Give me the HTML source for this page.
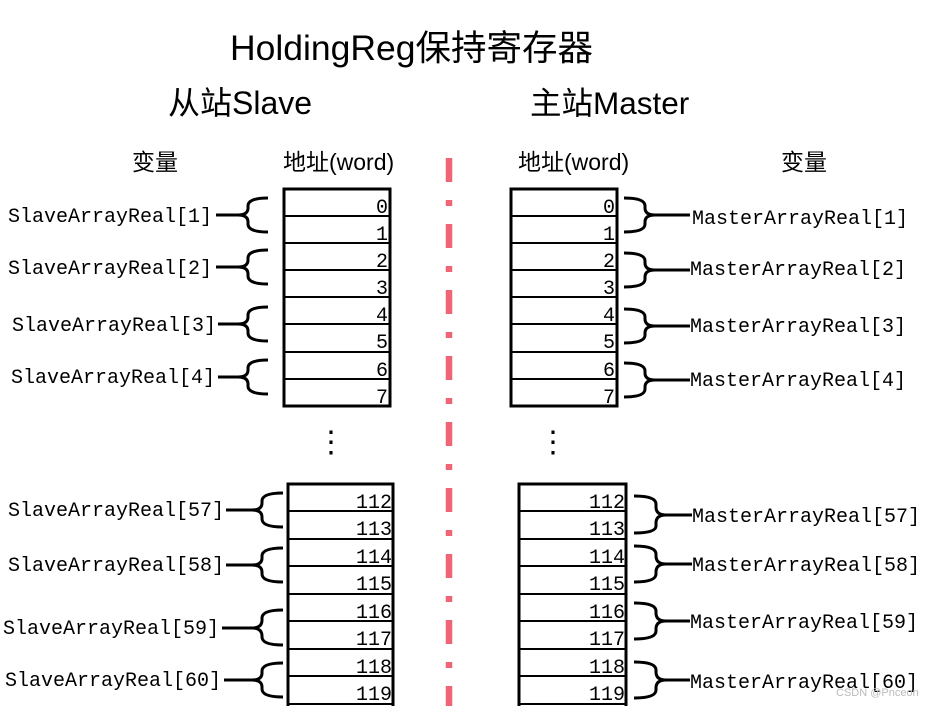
<!DOCTYPE html>
<html><head><meta charset="utf-8"><style>
html,body{margin:0;padding:0;background:#fff;}
svg{display:block}
.t{font-family:"Liberation Sans","Noto Sans CJK SC",sans-serif;fill:#000}
.m{font-family:"Liberation Mono","Noto Sans CJK SC",monospace;font-size:20px;fill:#000}
.n{font-family:"Liberation Mono",monospace;font-size:20px;fill:#000;text-anchor:end}
.b{fill:none;stroke:#000;stroke-width:3}
.g{stroke:#000;stroke-width:2}
</style></head><body>
<svg width="933" height="706" viewBox="0 0 933 706" xmlns="http://www.w3.org/2000/svg">
<text class="t" x="230" y="60" font-size="35.5">HoldingReg保持寄存器</text>
<text class="t" x="168" y="114" font-size="32">从站Slave</text>
<text class="t" x="530" y="114" font-size="31.5">主站Master</text>
<text class="t" x="132" y="170" font-size="23">变量</text>
<text class="t" x="283" y="170" font-size="23">地址(word)</text>
<text class="t" x="518" y="170" font-size="23">地址(word)</text>
<text class="t" x="781" y="170" font-size="23">变量</text>
<line x1="449" y1="158" x2="449" y2="706" stroke="#f06478" stroke-width="6.5" stroke-dasharray="24 18 6 18"/>

<!-- top-left box -->
<rect x="284" y="189" width="106" height="217" fill="none" stroke="#000" stroke-width="3"/>
<g class="g"><line x1="284" y1="216" x2="390" y2="216"/><line x1="284" y1="243" x2="390" y2="243"/><line x1="284" y1="270" x2="390" y2="270"/><line x1="284" y1="297" x2="390" y2="297"/><line x1="284" y1="324" x2="390" y2="324"/><line x1="284" y1="352" x2="390" y2="352"/><line x1="284" y1="379" x2="390" y2="379"/></g>
<g class="n" font-size="19"><text x="388" y="213">0</text><text x="388" y="240">1</text><text x="388" y="267">2</text><text x="388" y="294">3</text><text x="388" y="321">4</text><text x="388" y="348">5</text><text x="388" y="376">6</text><text x="388" y="403">7</text></g>
<!-- top-right box -->
<rect x="511" y="189" width="106" height="217" fill="none" stroke="#000" stroke-width="3"/>
<g class="g"><line x1="511" y1="216" x2="617" y2="216"/><line x1="511" y1="243" x2="617" y2="243"/><line x1="511" y1="270" x2="617" y2="270"/><line x1="511" y1="297" x2="617" y2="297"/><line x1="511" y1="324" x2="617" y2="324"/><line x1="511" y1="352" x2="617" y2="352"/><line x1="511" y1="379" x2="617" y2="379"/></g>
<g class="n"><text x="615" y="213">0</text><text x="615" y="240">1</text><text x="615" y="267">2</text><text x="615" y="294">3</text><text x="615" y="321">4</text><text x="615" y="348">5</text><text x="615" y="376">6</text><text x="615" y="403">7</text></g>
<!-- bottom-left box -->
<rect x="288" y="484" width="105" height="230" fill="none" stroke="#000" stroke-width="3"/>
<g class="g"><line x1="288" y1="511" x2="393" y2="511"/><line x1="288" y1="539" x2="393" y2="539"/><line x1="288" y1="566" x2="393" y2="566"/><line x1="288" y1="594" x2="393" y2="594"/><line x1="288" y1="621" x2="393" y2="621"/><line x1="288" y1="649" x2="393" y2="649"/><line x1="288" y1="676" x2="393" y2="676"/><line x1="288" y1="704" x2="393" y2="704"/></g>
<g class="n" font-size="22"><text x="392" y="508">112</text><text x="392" y="535">113</text><text x="392" y="563">114</text><text x="392" y="590">115</text><text x="392" y="618">116</text><text x="392" y="645">117</text><text x="392" y="673">118</text><text x="392" y="700">119</text></g>
<!-- bottom-right box -->
<rect x="519" y="484" width="107" height="230" fill="none" stroke="#000" stroke-width="3"/>
<g class="g"><line x1="519" y1="511" x2="626" y2="511"/><line x1="519" y1="539" x2="626" y2="539"/><line x1="519" y1="566" x2="626" y2="566"/><line x1="519" y1="594" x2="626" y2="594"/><line x1="519" y1="621" x2="626" y2="621"/><line x1="519" y1="649" x2="626" y2="649"/><line x1="519" y1="676" x2="626" y2="676"/><line x1="519" y1="704" x2="626" y2="704"/></g>
<g class="n" font-size="22"><text x="625" y="508">112</text><text x="625" y="535">113</text><text x="625" y="563">114</text><text x="625" y="590">115</text><text x="625" y="618">116</text><text x="625" y="645">117</text><text x="625" y="673">118</text><text x="625" y="700">119</text></g>

<text class="t" x="316" y="452" font-size="30">⋮</text>
<text class="t" x="538" y="452" font-size="30">⋮</text>

<g class="m"><text x="8" y="222">SlaveArrayReal[1]</text><text x="8" y="274">SlaveArrayReal[2]</text><text x="12" y="331">SlaveArrayReal[3]</text><text x="11" y="383">SlaveArrayReal[4]</text>
<text x="8" y="516">SlaveArrayReal[57]</text><text x="8" y="571">SlaveArrayReal[58]</text><text x="3" y="634">SlaveArrayReal[59]</text><text x="5" y="686">SlaveArrayReal[60]</text>
<text x="692" y="224">MasterArrayReal[1]</text><text x="690" y="275">MasterArrayReal[2]</text><text x="690" y="332">MasterArrayReal[3]</text><text x="690" y="386">MasterArrayReal[4]</text>
<text x="692" y="522">MasterArrayReal[57]</text><text x="692" y="571">MasterArrayReal[58]</text><text x="690" y="628">MasterArrayReal[59]</text><text x="690" y="688">MasterArrayReal[60]</text></g>

<g class="b">
<path d="M216 215H238M268 198Q248 198 248 206V208Q248 215 238 215Q248 215 248 222V224Q248 232 268 232"/>
<path d="M216 267H238M268 250Q248 250 248 258V260Q248 267 238 267Q248 267 248 274V276Q248 284 268 284"/>
<path d="M218 324H238M268 307Q248 307 248 315V317Q248 324 238 324Q248 324 248 331V333Q248 341 268 341"/>
<path d="M218 377H238M268 360Q248 360 248 368V370Q248 377 238 377Q248 377 248 384V386Q248 394 268 394"/>

<path d="M226 510H252M283 493Q262 493 262 501V503Q262 510 252 510Q262 510 262 517V519Q262 527 283 527"/>
<path d="M226 565H252M283 548Q262 548 262 556V558Q262 565 252 565Q262 565 262 572V574Q262 582 283 582"/>
<path d="M222 628H252M283 610Q262 610 262 618V620Q262 628 252 628Q262 628 262 636V637Q262 645 283 645"/>
<path d="M224 680H252M283 663Q262 663 262 671V673Q262 680 252 680Q262 680 262 687V689Q262 697 283 697"/>

<path d="M690 215H655M624 198Q645 198 645 206V208Q645 215 655 215Q645 215 645 222V224Q645 232 624 232"/>
<path d="M690 270H655M624 253Q645 253 645 261V263Q645 270 655 270Q645 270 645 277V279Q645 287 624 287"/>
<path d="M690 326H655M624 309Q645 309 645 317V319Q645 326 655 326Q645 326 645 333V335Q645 343 624 343"/>
<path d="M690 380H655M624 363Q645 363 645 371V373Q645 380 655 380Q645 380 645 387V389Q645 397 624 397"/>

<path d="M692 515H666M634 496Q656 496 656 504V507Q656 515 666 515Q656 515 656 523V526Q656 533 634 533"/>
<path d="M692 564H666M634 546Q656 546 656 554V556Q656 564 666 564Q656 564 656 572V574Q656 582 634 582"/>
<path d="M690 621H666M634 603Q656 603 656 611V613Q656 621 666 621Q656 621 656 629V631Q656 639 634 639"/>
<path d="M690 680H666M634 662Q656 662 656 670V672Q656 680 666 680Q656 680 656 688V690Q656 698 634 698"/>
</g>
<text x="836" y="696" font-family="Liberation Sans,sans-serif" font-size="11" fill="#bbb">CSDN @Pnceon</text>
</svg>
</body></html>
